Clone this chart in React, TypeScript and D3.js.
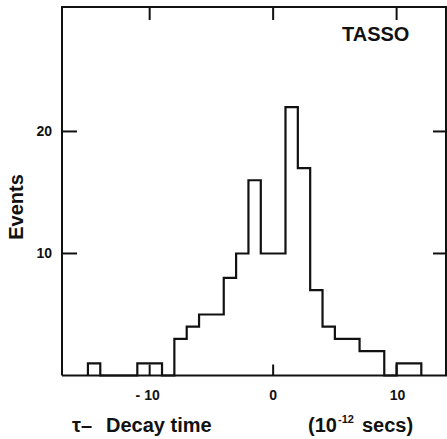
import React from "react";
import * as d3 from "d3";

const binStarts = [-15, -14, -13, -12, -11, -10, -9, -8, -7, -6, -5, -4, -3, -2, -1, 0, 1, 2, 3, 4, 5, 6, 7, 8, 9, 10, 11];
const counts = [1, 0, 0, 0, 1, 1, 0, 3, 4, 5, 5, 8, 10, 16, 10, 10, 22, 17, 7, 4, 3, 3, 2, 2, 0, 1, 1];
const xTicks = [-10, 0, 10];
const yTicks = [10, 20];

const W = 447;
const H = 439;
const INK = "#111";

export default function App() {
  const x = d3.scaleLinear().domain([-17.1, 14]).range([62, 446]);
  const y = d3.scaleLinear().domain([0, 30.2]).range([375.5, 7]);

  const pts: [number, number][] = [[binStarts[0], 0]];
  binStarts.forEach((s, i) => pts.push([s, counts[i]]));
  pts.push([binStarts[binStarts.length - 1] + 1, 0]);

  const line = d3
    .line<[number, number]>()
    .x((d) => x(d[0]))
    .y((d) => y(d[1]))
    .curve(d3.curveStepAfter);

  const font = "'Liberation Sans', Arial, sans-serif";
  const [x0, x1] = x.range();
  const [yb, yt] = y.range();

  return (
    <svg
      width={W}
      height={H}
      style={{ position: "absolute", left: 0, top: 0, background: "#fff" }}
      fontFamily={font}
    >
      <rect x={0} y={0} width={W} height={H} fill="#fff" />
      {/* frame */}
      <path
        d={`M${x0},${yb}V${yt}H${x1}V${yb}H${x0}`}
        fill="none"
        stroke={INK}
        strokeWidth={2}
      />
      {/* histogram */}
      <path d={line(pts) || ""} fill="none" stroke={INK} strokeWidth={2.2} />
      {/* ticks */}
      {yTicks.map((t) => (
        <g key={"y" + t}>
          <line x1={x0} x2={x0 + 15} y1={y(t)} y2={y(t)} stroke={INK} strokeWidth={2} />
          <line x1={x1 - 13} x2={x1} y1={y(t)} y2={y(t)} stroke={INK} strokeWidth={2} />
          <text
            x={52}
            y={y(t) + 5}
            textAnchor="end"
            fontSize={14}
            fontWeight="bold"
            fill={INK}
          >
            {t}
          </text>
        </g>
      ))}
      {xTicks.map((t) => (
        <g key={"x" + t}>
          <line x1={x(t)} x2={x(t)} y1={yt} y2={yt + 13} stroke={INK} strokeWidth={2} />
          <line x1={x(t)} x2={x(t)} y1={yb} y2={yb - 11} stroke={INK} strokeWidth={2} />
          <text
            x={x(t) - (t < 0 ? 2 : 0) + (t > 0 ? 1 : 0)}
            y={400}
            textAnchor="middle"
            fontSize={14}
            fontWeight="bold"
            fill={INK}
          >
            {t < 0 ? "- " + Math.abs(t) : String(t)}
          </text>
        </g>
      ))}
      {/* labels */}
      <text x={342} y={41} fontSize={20} fontWeight="bold" fill={INK}>
        TASSO
      </text>
      <text
        transform={`translate(23,207) rotate(-90)`}
        textAnchor="middle"
        fontSize={20}
        fontWeight="bold"
        fill={INK}
      >
        Events
      </text>
      <text x={72} y={432} fontSize={20} fontWeight="bold" fill={INK}>
        τ–
      </text>
      <text x={106} y={432} fontSize={20} fontWeight="bold" fill={INK}>
        Decay time
      </text>
      <text x={308} y={432} fontSize={20} fontWeight="bold" fill={INK}>
        (10
      </text>
      <text x={338} y={423} fontSize={11} fontWeight="bold" fill={INK}>
        -12
      </text>
      <text x={362} y={432} fontSize={20} fontWeight="bold" fill={INK}>
        secs)
      </text>
    </svg>
  );
}
